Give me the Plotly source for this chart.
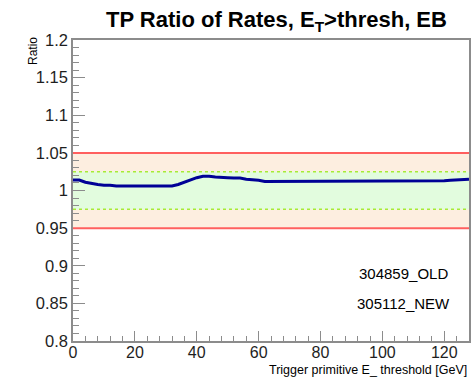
import plotly.graph_objects as go

# Data
thresholds = list(range(0, 130, 2))
ratio = [1.014, 1.014, 1.011, 1.009, 1.008, 1.007, 1.007, 1.006, 1.006, 1.006,
         1.0055, 1.0055, 1.006, 1.0055, 1.005, 1.0055, 1.006, 1.008, 1.011, 1.015,
         1.017, 1.019, 1.019, 1.018, 1.017, 1.017, 1.0165, 1.0165, 1.015, 1.0145,
         1.0135, 1.012, 1.012, 1.012, 1.012, 1.012, 1.012, 1.012, 1.012, 1.012,
         1.012, 1.013, 1.013, 1.013, 1.013, 1.013, 1.013, 1.013, 1.013, 1.013,
         1.012, 1.012, 1.012, 1.012, 1.012, 1.012, 1.013, 1.0125, 1.013, 1.013,
         1.013, 1.0135, 1.014, 1.014, 1.015]
outer_band = [0.95, 1.05]
inner_band = [0.975, 1.025]
x_range = [0, 128]
y_range = [0.8, 1.2]
labels = ["304859_OLD", "305112_NEW"]

fig = go.Figure()

shapes = [
    dict(type="rect", xref="x", yref="y", x0=x_range[0], x1=x_range[1],
         y0=outer_band[0], y1=outer_band[1], fillcolor="rgb(253,238,224)",
         line=dict(width=0), layer="below"),
    dict(type="rect", xref="x", yref="y", x0=x_range[0], x1=x_range[1],
         y0=inner_band[0], y1=inner_band[1], fillcolor="rgb(226,252,222)",
         line=dict(width=0), layer="below"),
]
for v in outer_band:
    shapes.append(dict(type="line", xref="x", yref="y", x0=x_range[0], x1=x_range[1],
                       y0=v, y1=v, line=dict(color="rgb(255,95,95)", width=2)))
for v in inner_band:
    shapes.append(dict(type="line", xref="x", yref="y", x0=x_range[0], x1=x_range[1],
                       y0=v, y1=v, line=dict(color="rgb(165,235,55)", width=1.5, dash="3px,3px")))

fig.add_trace(go.Scatter(x=thresholds, y=ratio, mode="lines",
                         line=dict(color="rgb(0,0,150)", width=3),
                         showlegend=False))

font_family = "Liberation Sans, Arial, Helvetica, sans-serif"

annotations = [
    dict(text="<b>TP Ratio of Rates, E<sub>T</sub>>thresh, EB</b>", xref="paper", yref="paper",
         x=0.515, y=1.0, yshift=19, xanchor="center", yanchor="middle", showarrow=False,
         font=dict(size=22, color="black", family=font_family)),
    dict(text=labels[0], xref="paper", yref="paper", x=0.834, y=0.2226, showarrow=False,
         xanchor="center", yanchor="middle", font=dict(size=15, color="black", family=font_family)),
    dict(text=labels[1], xref="paper", yref="paper", x=0.834, y=0.123, showarrow=False,
         xanchor="center", yanchor="middle", font=dict(size=15, color="black", family=font_family)),
    dict(text="Trigger primitive E_ threshold [GeV]", xref="paper", yref="paper", x=1.0, y=0,
         yshift=-29, xanchor="right", yanchor="middle", showarrow=False,
         font=dict(size=12.5, color="black", family=font_family)),
    dict(text="Ratio", xref="paper", yref="paper", x=0, y=1.0, xshift=-40, yshift=5,
         xanchor="center", yanchor="top", textangle=-90, showarrow=False,
         font=dict(size=12, color="black", family=font_family)),
]

fig.update_layout(
    width=473, height=377,
    margin=dict(l=73, r=2, t=40, b=36),
    paper_bgcolor="white", plot_bgcolor="white",
    shapes=shapes, annotations=annotations,
    font=dict(family=font_family, color="black"),
    xaxis=dict(range=x_range, showgrid=False, zeroline=False, showline=True, mirror=True,
               linecolor="rgb(140,140,140)", linewidth=1.5,
               ticks="inside", ticklen=10, tickcolor="rgb(140,140,140)", tickwidth=1,
               dtick=20, tick0=0, tickfont=dict(size=16, color="rgb(30,30,30)"),
               ticklabelstandoff=-4,
               minor=dict(ticks="inside", ticklen=5, dtick=4, tickcolor="rgb(140,140,140)")),
    yaxis=dict(range=y_range, showgrid=False, zeroline=False, showline=True, mirror=True,
               linecolor="rgb(140,140,140)", linewidth=1.5,
               ticks="inside", ticklen=12, tickcolor="rgb(140,140,140)", tickwidth=1,
               dtick=0.05, tick0=0.8, tickfont=dict(size=16.5, color="rgb(30,30,30)"),
               minor=dict(ticks="inside", ticklen=6, dtick=0.01, tickcolor="rgb(140,140,140)")),
)

fig.write_html("out.html")
